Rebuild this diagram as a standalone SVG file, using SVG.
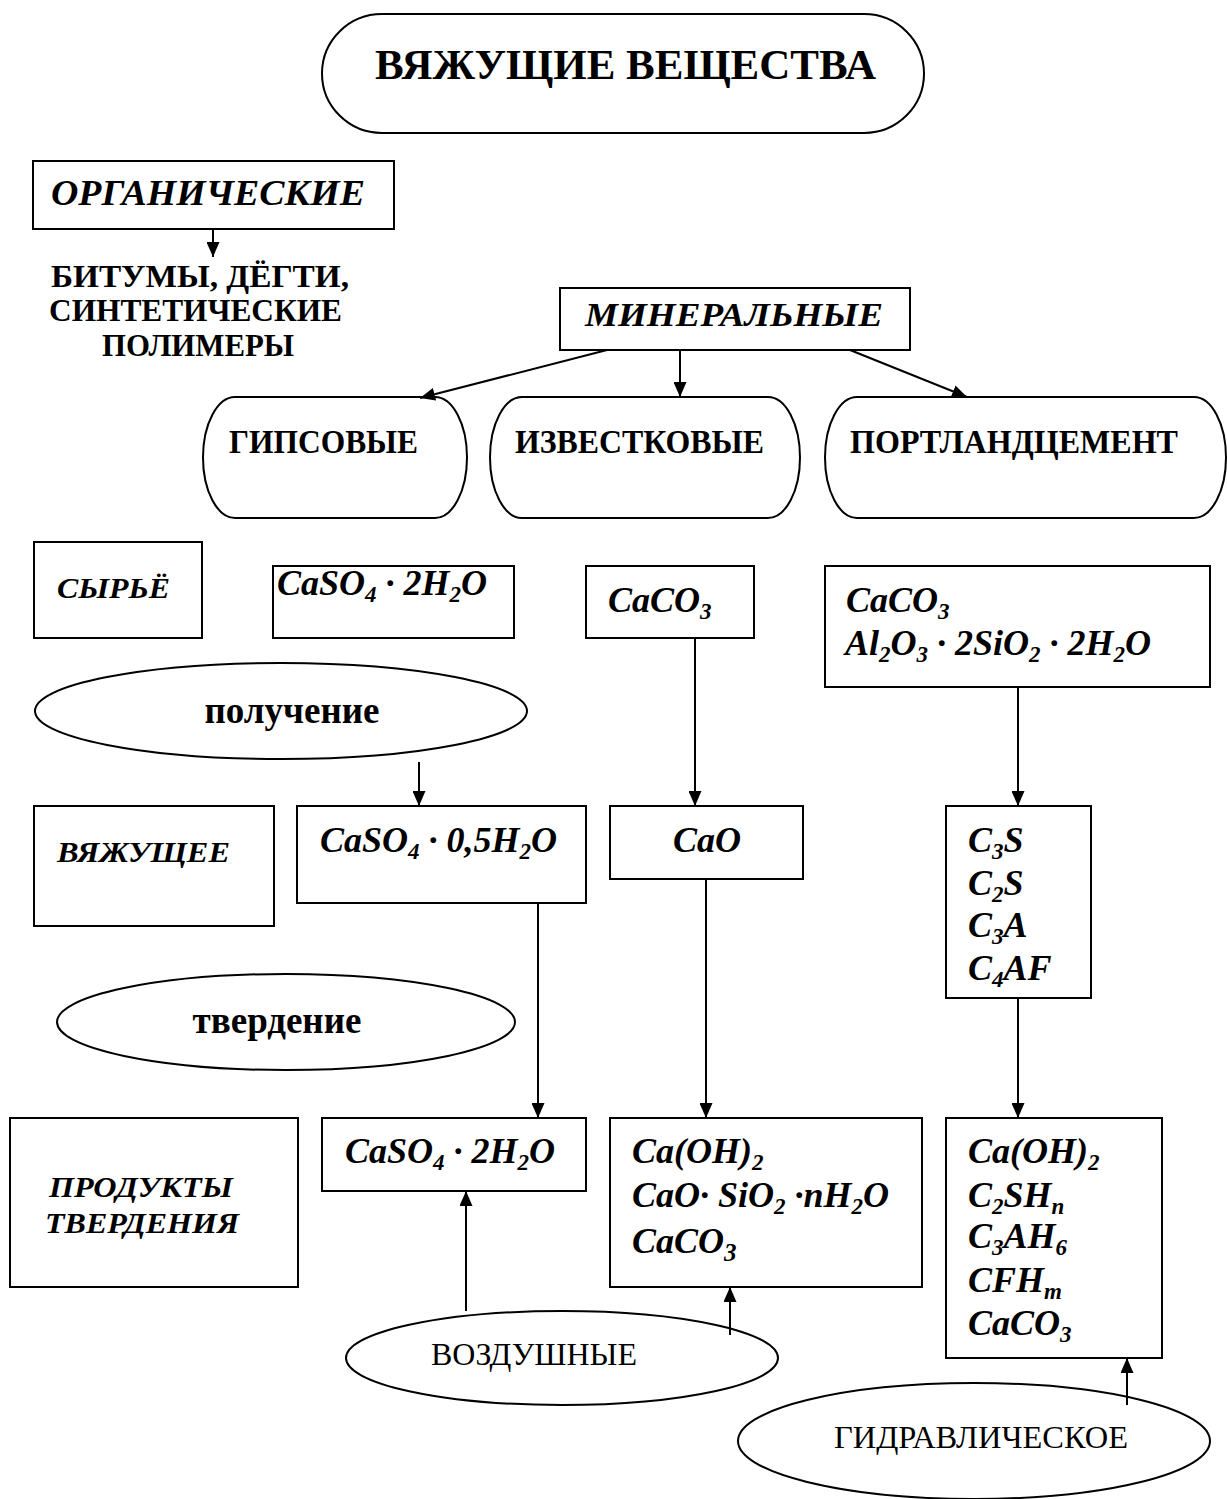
<svg xmlns="http://www.w3.org/2000/svg" width="1227" height="1499" viewBox="0 0 1227 1499">
<style>
.s{fill:#fff;stroke:#000;stroke-width:2}
.c{stroke:#000;stroke-width:2;fill:none}
text{font-family:"Liberation Serif","Times New Roman",serif;fill:#000}
.b{font-weight:bold}
.bi{font-weight:bold;font-style:italic}
.f{font-weight:bold;font-style:italic;font-size:36px}
.r{font-size:32px}
.sb{font-size:23px}
</style>
<defs>
<marker id="ah" markerUnits="userSpaceOnUse" markerWidth="15" markerHeight="13" refX="15" refY="6.5" orient="auto">
<path d="M0,0 L15,6.5 L0,13 z" fill="#000"/>
</marker>
</defs>
<rect width="1227" height="1499" fill="#fff"/>

<g id="title">
<rect class="s" x="322" y="14" width="602" height="119" rx="60" ry="59.5"/>
<text class="b" x="375" y="79" font-size="42" textLength="501" lengthAdjust="spacingAndGlyphs">ВЯЖУЩИЕ ВЕЩЕСТВА</text>
</g>

<g id="organic">
<rect class="s" x="33" y="161" width="361" height="68"/>
<text class="bi" x="51" y="205" font-size="35" textLength="314" lengthAdjust="spacingAndGlyphs">ОРГАНИЧЕСКИЕ</text>
</g>
<g id="organic-list">
<text class="b" x="51" y="287" font-size="31" textLength="298" lengthAdjust="spacingAndGlyphs">БИТУМЫ, ДЁГТИ,</text>
<text class="b" x="49" y="321" font-size="31" textLength="293" lengthAdjust="spacingAndGlyphs">СИНТЕТИЧЕСКИЕ</text>
<text class="b" x="102" y="356" font-size="31" textLength="192" lengthAdjust="spacingAndGlyphs">ПОЛИМЕРЫ</text>
</g>

<g id="mineral">
<rect class="s" x="560" y="288" width="350" height="62"/>
<text class="bi" x="585" y="326" font-size="34" textLength="298" lengthAdjust="spacingAndGlyphs">МИНЕРАЛЬНЫЕ</text>
</g>

<g id="gips">
<path class="s" d="M235,397 H435 A32,60.5 0 0 1 435,518 H235 A32,60.5 0 0 1 235,397 z"/>
<text class="b" x="229" y="453" font-size="33" textLength="189" lengthAdjust="spacingAndGlyphs">ГИПСОВЫЕ</text>
</g>
<g id="izvest">
<path class="s" d="M522,397 H768 A32,60.5 0 0 1 768,518 H522 A32,60.5 0 0 1 522,397 z"/>
<text class="b" x="515" y="453" font-size="33" textLength="249" lengthAdjust="spacingAndGlyphs">ИЗВЕСТКОВЫЕ</text>
</g>
<g id="portland">
<path class="s" d="M857,397 H1194 A32,60.5 0 0 1 1194,518 H857 A32,60.5 0 0 1 857,397 z"/>
<text class="b" x="850" y="453" font-size="33" textLength="328" lengthAdjust="spacingAndGlyphs">ПОРТЛАНДЦЕМЕНТ</text>
</g>

<g id="syrye">
<rect class="s" x="34" y="542" width="168" height="96"/>
<text class="bi" x="57" y="598" font-size="29" textLength="113" lengthAdjust="spacingAndGlyphs">СЫРЬЁ</text>
</g>
<g id="raw-gips">
<rect class="s" x="273" y="566" width="241" height="72"/>
<text class="f" x="277" y="595">CaSO<tspan dy="7" class="sb">4</tspan><tspan dy="-7"> · 2H</tspan><tspan dy="7" class="sb">2</tspan><tspan dy="-7">O</tspan></text>
</g>
<g id="raw-izvest">
<rect class="s" x="586" y="566" width="168" height="72"/>
<text class="f" x="608" y="612">CaCO<tspan dy="7" class="sb">3</tspan></text>
</g>
<g id="raw-portland">
<rect class="s" x="825" y="566" width="385" height="121"/>
<text class="f" x="846" y="612">CaCO<tspan dy="7" class="sb">3</tspan></text>
<text class="f" x="845" y="655">Al<tspan dy="7" class="sb">2</tspan><tspan dy="-7">O</tspan><tspan dy="7" class="sb">3</tspan><tspan dy="-7"> · 2SiO</tspan><tspan dy="7" class="sb">2</tspan><tspan dy="-7"> · 2H</tspan><tspan dy="7" class="sb">2</tspan><tspan dy="-7">O</tspan></text>
</g>

<g id="poluchenie">
<ellipse class="s" cx="281" cy="711" rx="246" ry="48"/>
<text class="b" x="292" y="723" font-size="37" text-anchor="middle">получение</text>
</g>

<g id="vyazh">
<rect class="s" x="34" y="806" width="240" height="120"/>
<text class="bi" x="57" y="862" font-size="29" textLength="173" lengthAdjust="spacingAndGlyphs">ВЯЖУЩЕЕ</text>
</g>
<g id="bind-gips">
<rect class="s" x="297" y="806" width="289" height="97"/>
<text class="f" x="320" y="852">CaSO<tspan dy="7" class="sb">4</tspan><tspan dy="-7"> · 0,5H</tspan><tspan dy="7" class="sb">2</tspan><tspan dy="-7">O</tspan></text>
</g>
<g id="bind-izvest">
<rect class="s" x="610" y="806" width="193" height="73"/>
<text class="f" x="673" y="852">CaO</text>
</g>
<g id="bind-portland">
<rect class="s" x="946" y="806" width="145" height="192"/>
<text class="f" x="968" y="852">C<tspan dy="7" class="sb">3</tspan><tspan dy="-7">S</tspan></text>
<text class="f" x="968" y="895">C<tspan dy="7" class="sb">2</tspan><tspan dy="-7">S</tspan></text>
<text class="f" x="968" y="937">C<tspan dy="7" class="sb">3</tspan><tspan dy="-7">A</tspan></text>
<text class="f" x="968" y="980">C<tspan dy="7" class="sb">4</tspan><tspan dy="-7">AF</tspan></text>
</g>

<g id="tverdenie">
<ellipse class="s" cx="286" cy="1022" rx="229" ry="48"/>
<text class="b" x="277" y="1033" font-size="37" text-anchor="middle">твердение</text>
</g>

<g id="products">
<rect class="s" x="10" y="1118" width="288" height="169"/>
<text class="bi" x="49" y="1197" font-size="29" textLength="184" lengthAdjust="spacingAndGlyphs">ПРОДУКТЫ</text>
<text class="bi" x="45" y="1233" font-size="29" textLength="194" lengthAdjust="spacingAndGlyphs">ТВЕРДЕНИЯ</text>
</g>
<g id="prod-gips">
<rect class="s" x="322" y="1118" width="264" height="73"/>
<text class="f" x="345" y="1163">CaSO<tspan dy="7" class="sb">4</tspan><tspan dy="-7"> · 2H</tspan><tspan dy="7" class="sb">2</tspan><tspan dy="-7">O</tspan></text>
</g>
<g id="prod-izvest">
<rect class="s" x="610" y="1118" width="312" height="169"/>
<text class="f" x="632" y="1163" font-size="35">Ca(OH)<tspan dy="7" class="sb">2</tspan></text>
<text class="f" x="632" y="1207" font-size="35">CaO· SiO<tspan dy="7" class="sb">2</tspan><tspan dy="-7"> ·nH</tspan><tspan dy="7" class="sb">2</tspan><tspan dy="-7">O</tspan></text>
<text class="f" x="632" y="1253" font-size="39">CaCO<tspan dy="8" font-size="25">3</tspan></text>
</g>
<g id="prod-portland">
<rect class="s" x="946" y="1118" width="216" height="240"/>
<text class="f" x="968" y="1163" font-size="35">Ca(OH)<tspan dy="7" class="sb">2</tspan></text>
<text class="f" x="968" y="1207" font-size="35">C<tspan dy="7" class="sb">2</tspan><tspan dy="-7">SH</tspan><tspan dy="7" class="sb">n</tspan></text>
<text class="f" x="968" y="1248" font-size="35">C<tspan dy="7" class="sb">3</tspan><tspan dy="-7">AH</tspan><tspan dy="7" class="sb">6</tspan></text>
<text class="f" x="968" y="1292" font-size="35">CFH<tspan dy="7" class="sb">m</tspan></text>
<text class="f" x="968" y="1335" font-size="35">CaCO<tspan dy="7" class="sb">3</tspan></text>
</g>

<g id="vozdush">
<ellipse class="s" cx="562" cy="1358" rx="216" ry="47"/>
<text class="r" x="431" y="1365" textLength="206" lengthAdjust="spacingAndGlyphs">ВОЗДУШНЫЕ</text>
</g>
<g id="gidravl">
<ellipse class="s" cx="974" cy="1441" rx="236" ry="58"/>
<text class="r" x="834" y="1448" textLength="294" lengthAdjust="spacingAndGlyphs">ГИДРАВЛИЧЕСКОЕ</text>
</g>

<g id="connectors">
<line class="c" x1="213" y1="230" x2="213" y2="257" marker-end="url(#ah)"/>
<line class="c" x1="607" y1="350" x2="420" y2="398" marker-end="url(#ah)"/>
<line class="c" x1="680" y1="350" x2="680" y2="397" marker-end="url(#ah)"/>
<line class="c" x1="850" y1="350" x2="967" y2="397" marker-end="url(#ah)"/>
<line class="c" x1="419" y1="762" x2="419" y2="806" marker-end="url(#ah)"/>
<line class="c" x1="695" y1="638" x2="695" y2="806" marker-end="url(#ah)"/>
<line class="c" x1="1018" y1="687" x2="1018" y2="806" marker-end="url(#ah)"/>
<line class="c" x1="538" y1="903" x2="538" y2="1118" marker-end="url(#ah)"/>
<line class="c" x1="706" y1="879" x2="706" y2="1118" marker-end="url(#ah)"/>
<line class="c" x1="1018" y1="998" x2="1018" y2="1118" marker-end="url(#ah)"/>
<line class="c" x1="466" y1="1311" x2="466" y2="1191" marker-end="url(#ah)"/>
<line class="c" x1="730" y1="1335" x2="730" y2="1287" marker-end="url(#ah)"/>
<line class="c" x1="1127" y1="1405" x2="1127" y2="1358" marker-end="url(#ah)"/>
</g>
</svg>
